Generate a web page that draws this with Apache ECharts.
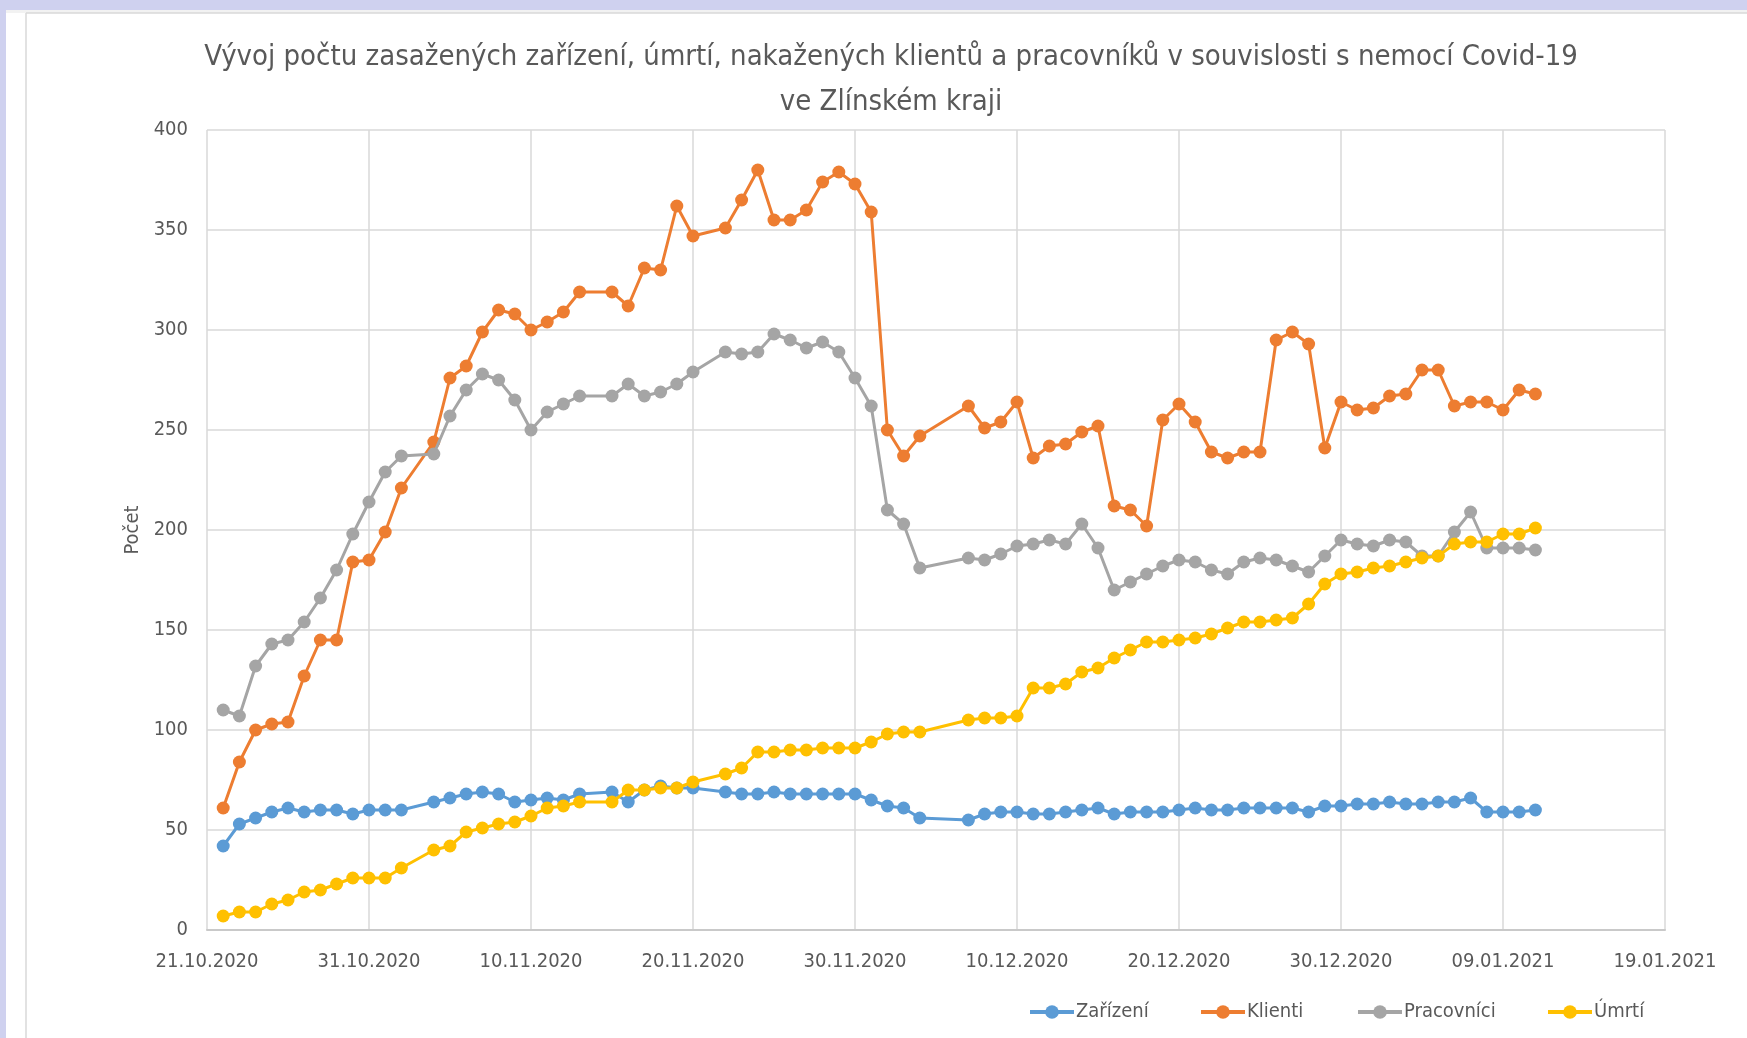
<!DOCTYPE html>
<html>
<head>
<meta charset="utf-8">
<script src="https://cdn.jsdelivr.net/npm/echarts@6/dist/echarts.min.js"></script>
<style>
  html, body { margin: 0; padding: 0; background: #fff; }
  #main { width: 1747px; height: 1038px; }
</style>
</head>
<body>
<div id="main"></div>
<script>
var FONT = "'Liberation Sans Narrow', 'DejaVu Sans Condensed', sans-serif";
var TXT = '#595959';

// dny s daty (chybí 03.11., 14.11., 21.11., 05.12., 06.12.)
var dates = [
  '22.10.2020','23.10.2020','24.10.2020','25.10.2020','26.10.2020','27.10.2020','28.10.2020','29.10.2020','30.10.2020','31.10.2020','01.11.2020','02.11.2020',
  '04.11.2020','05.11.2020','06.11.2020','07.11.2020','08.11.2020','09.11.2020','10.11.2020','11.11.2020','12.11.2020','13.11.2020',
  '15.11.2020','16.11.2020','17.11.2020','18.11.2020','19.11.2020','20.11.2020',
  '22.11.2020','23.11.2020','24.11.2020','25.11.2020','26.11.2020','27.11.2020','28.11.2020','29.11.2020','30.11.2020','01.12.2020','02.12.2020','03.12.2020','04.12.2020',
  '07.12.2020','08.12.2020','09.12.2020','10.12.2020','11.12.2020','12.12.2020','13.12.2020','14.12.2020','15.12.2020','16.12.2020','17.12.2020','18.12.2020',
  '19.12.2020','20.12.2020','21.12.2020','22.12.2020','23.12.2020','24.12.2020','25.12.2020','26.12.2020','27.12.2020','28.12.2020','29.12.2020','30.12.2020',
  '31.12.2020','01.01.2021','02.01.2021','03.01.2021','04.01.2021','05.01.2021','06.01.2021','07.01.2021','08.01.2021','09.01.2021','10.01.2021','11.01.2021'
];

var zarizeni = [
  42,53,56,59,61,59,60,60,58,60,60,60,
  64,66,68,69,68,64,65,66,65,68,
  69,64,70,72,71,71,
  69,68,68,69,68,68,68,68,68,65,62,61,56,
  55,58,59,59,58,58,59,60,61,58,59,59,
  59,60,61,60,60,61,61,61,61,59,62,62,
  63,63,64,63,63,64,64,66,59,59,59,60
];
var klienti = [
  61,84,100,103,104,127,145,145,184,185,199,221,
  244,276,282,299,310,308,300,304,309,319,
  319,312,331,330,362,347,
  351,365,380,355,355,360,374,379,373,359,250,237,247,
  262,251,254,264,236,242,243,249,252,212,210,202,
  255,263,254,239,236,239,239,295,299,293,241,264,
  260,261,267,268,280,280,262,264,264,260,270,268
];
var pracovnici = [
  110,107,132,143,145,154,166,180,198,214,229,237,
  238,257,270,278,275,265,250,259,263,267,
  267,273,267,269,273,279,
  289,288,289,298,295,291,294,289,276,262,210,203,181,
  186,185,188,192,193,195,193,203,191,170,174,178,
  182,185,184,180,178,184,186,185,182,179,187,195,
  193,192,195,194,187,187,199,209,191,191,191,190
];
var umrti = [
  7,9,9,13,15,19,20,23,26,26,26,31,
  40,42,49,51,53,54,57,61,62,64,
  64,70,70,71,71,74,
  78,81,89,89,90,90,91,91,91,94,98,99,99,
  105,106,106,107,121,121,123,129,131,136,140,144,
  144,145,146,148,151,154,154,155,156,163,173,178,
  179,181,182,184,186,187,193,194,194,198,198,201
];

var names = ['Zařízení', 'Klienti', 'Pracovníci', 'Úmrtí'];
var colors = ['#5b9bd5', '#ed7d31', '#a5a5a5', '#ffc000'];
var yTicks = { min: 0, max: 400, step: 50 };
var xStart = '21.10.2020';
var xSpanDays = 90;
var xStepDays = 10;

function parseDate(s) {
  var p = s.split('.');
  return Date.UTC(+p[2], +p[1] - 1, +p[0]);
}
var DAY = 86400000;
var t0 = parseDate(xStart);
function dayIndex(s) { return Math.round((parseDate(s) - t0) / DAY); }
function fmtDay(v) {
  var d = new Date(t0 + v * DAY);
  var dd = ('0' + d.getUTCDate()).slice(-2);
  var mm = ('0' + (d.getUTCMonth() + 1)).slice(-2);
  return dd + '.' + mm + '.' + d.getUTCFullYear();
}
function pairs(values) {
  return values.map(function (v, i) { return [dayIndex(dates[i]), v]; });
}

var chart = echarts.init(document.getElementById('main'));

var seriesValues = [zarizeni, klienti, pracovnici, umrti];
var legendLeft = [1028, 1199, 1356, 1546];

var option = {
  backgroundColor: '#fff',
  animation: false,
  color: colors,
  title: {
    text: 'Vývoj počtu zasažených zařízení, úmrtí, nakažených klientů a pracovníků v souvislosti s nemocí Covid-19\nve Zlínském kraji',
    left: 886,
    top: 30,
    textAlign: 'center',
    textStyle: { fontFamily: FONT, fontSize: 29, fontWeight: 'normal', color: TXT, lineHeight: 45 }
  },
  legend: names.map(function (n, i) {
    return {
      data: [n],
      left: legendLeft[i],
      top: 1002,
      itemWidth: 44,
      itemHeight: 17,
      itemGap: 0,
      padding: 0,
      lineStyle: { width: 4 },
      textStyle: { fontFamily: FONT, fontSize: 20, color: TXT, padding: [0, 0, 0, -3] }
    };
  }),
  grid: { left: 207, right: 82, top: 130, bottom: 108, containLabel: false },
  xAxis: {
    type: 'value',
    min: 0,
    max: xSpanDays,
    interval: xStepDays,
    axisLine: { show: true, lineStyle: { color: '#c9c9c9', width: 2 } },
    axisTick: { show: false },
    axisLabel: { formatter: fmtDay, fontFamily: FONT, fontSize: 20, color: TXT, margin: 22 },
    splitLine: { show: true, lineStyle: { color: '#d9d9d9', width: 1.5 } }
  },
  yAxis: {
    type: 'value',
    min: yTicks.min,
    max: yTicks.max,
    interval: yTicks.step,
    name: 'Počet',
    nameLocation: 'middle',
    nameGap: 58,
    nameTextStyle: { fontFamily: FONT, fontSize: 20, color: TXT },
    axisLine: { show: false },
    axisTick: { show: false },
    axisLabel: { fontFamily: FONT, fontSize: 20, color: TXT, margin: 19 },
    splitLine: { show: true, lineStyle: { color: '#d9d9d9', width: 1.5 } }
  },
  graphic: [
    { type: 'rect', shape: { x: 0, y: 0, width: 1747, height: 10 }, style: { fill: '#cfd1ef' }, silent: true },
    { type: 'rect', shape: { x: 0, y: 0, width: 6, height: 1038 }, style: { fill: '#cfd1ef' }, silent: true },
    { type: 'rect', shape: { x: 6, y: 10, width: 1741, height: 3 }, style: { fill: '#f2f2f2' }, silent: true },
    { type: 'line', shape: { x1: 26, y1: 13, x2: 1747, y2: 13 }, style: { stroke: '#d9d9d9', lineWidth: 1.5 }, silent: true },
    { type: 'line', shape: { x1: 26, y1: 13, x2: 26, y2: 1038 }, style: { stroke: '#d9d9d9', lineWidth: 1.5 }, silent: true }
  ],
  series: names.map(function (n, i) {
    return {
      name: n,
      type: 'line',
      data: pairs(seriesValues[i]),
      symbol: 'circle',
      symbolSize: 13,
      lineStyle: { width: 3, color: colors[i] },
      itemStyle: { color: colors[i] },
      z: 2 + i
    };
  })
};

chart.setOption(option);
</script>
</body>
</html>
